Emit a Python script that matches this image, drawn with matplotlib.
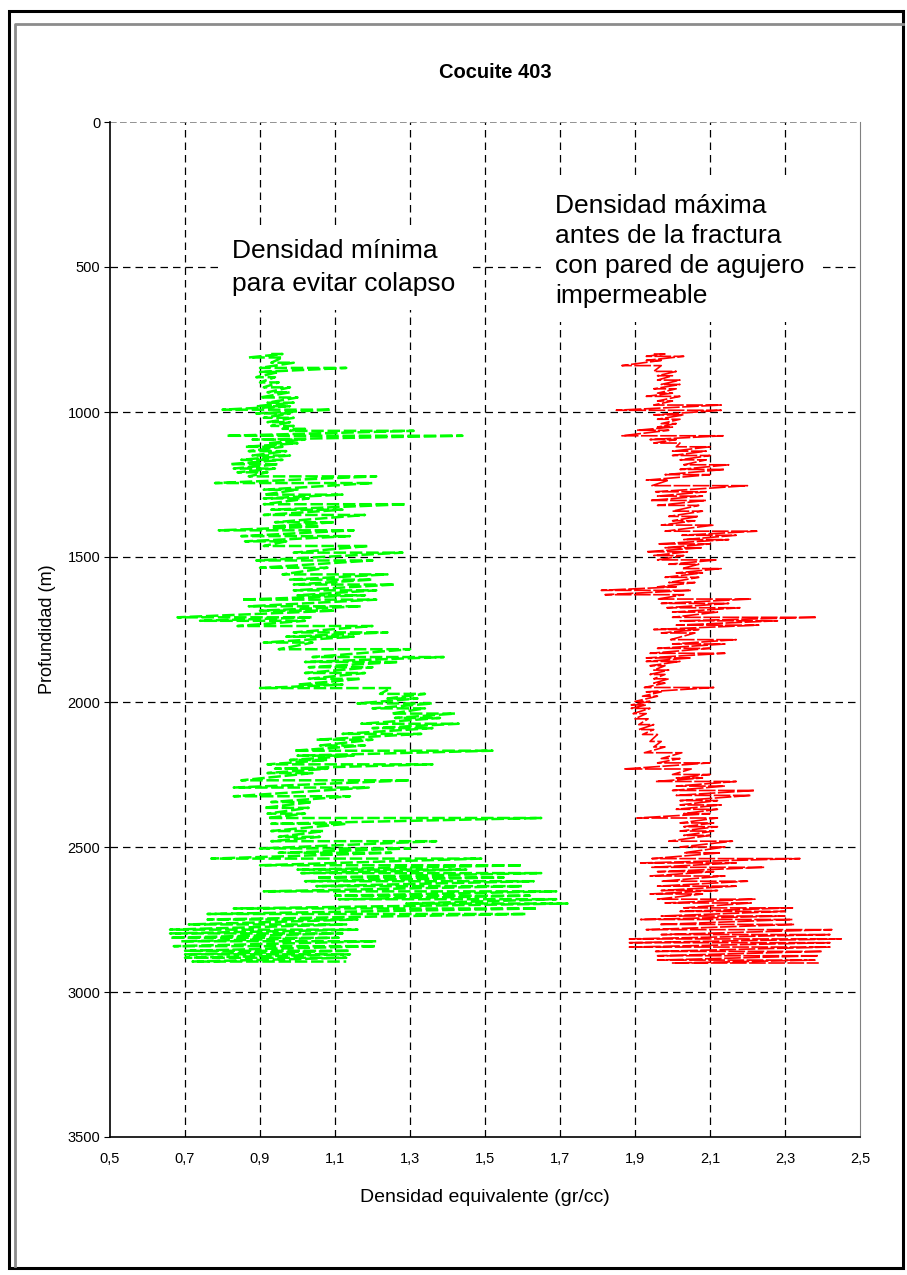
import numpy as np
import matplotlib
matplotlib.use('Agg')
import matplotlib.pyplot as plt
from matplotlib.lines import Line2D

plt.rcParams['font.family'] = ['Liberation Sans', 'DejaVu Sans']

# Minimum density to avoid collapse (green): depth (m), left / right extent of the trace
g_depth = [800, 812, 830, 848, 862, 880, 898, 915, 932, 950,
           968, 980, 992, 1005, 1020, 1035, 1048, 1058, 1065, 1082,
           1095, 1108, 1120, 1135, 1150, 1165, 1180, 1195, 1208, 1222,
           1245, 1268, 1285, 1298, 1318, 1337, 1355, 1380, 1395, 1408,
           1428, 1446, 1462, 1485, 1512, 1537, 1560, 1578, 1595, 1615,
           1632, 1647, 1670, 1685, 1708, 1720, 1738, 1760, 1775, 1795,
           1818, 1845, 1862, 1880, 1900, 1920, 1940, 1952, 1972, 1988,
           2005, 2022, 2040, 2055, 2075, 2090, 2110, 2130, 2150, 2168,
           2185, 2200, 2215, 2230, 2245, 2270, 2295, 2325, 2345, 2365,
           2385, 2400, 2420, 2445, 2465, 2480, 2505, 2520, 2540, 2563,
           2578, 2590, 2605, 2618, 2635, 2653, 2668, 2680, 2695, 2712,
           2731, 2750, 2767, 2785, 2798, 2813, 2825, 2842, 2858, 2870,
           2882, 2895]
g_lo = [0.93, 0.87, 0.93, 0.90, 0.90, 0.89, 0.90, 0.91, 0.92, 0.90,
        0.92, 0.89, 0.80, 0.89, 0.91, 0.92, 0.93, 0.96, 0.98, 0.81,
        0.88, 0.92, 0.86, 0.87, 0.88, 0.85, 0.82, 0.83, 0.84, 0.87,
        0.78, 0.91, 0.91, 0.91, 0.91, 0.93, 0.91, 0.94, 0.93, 0.79,
        0.85, 0.86, 0.91, 0.99, 0.89, 0.90, 0.96, 0.98, 0.99, 0.99,
        1.00, 0.85, 0.87, 0.90, 0.68, 0.74, 0.84, 0.99, 0.97, 0.91,
        0.95, 1.04, 1.02, 1.03, 1.02, 1.03, 1.00, 0.90, 1.22, 1.24,
        1.16, 1.20, 1.25, 1.26, 1.17, 1.20, 1.12, 1.05, 1.06, 0.99,
        1.00, 0.98, 0.92, 0.94, 0.92, 0.85, 0.83, 0.83, 0.93, 0.91,
        0.92, 0.92, 0.93, 0.93, 0.95, 0.93, 0.90, 0.95, 0.77, 0.90,
        1.00, 1.01, 1.05, 1.02, 1.05, 0.91, 1.10, 1.11, 1.29, 0.83,
        0.76, 0.76, 0.71, 0.66, 0.66, 0.66, 0.69, 0.67, 0.70, 0.70,
        0.70, 0.72]
g_hi = [0.96, 0.96, 0.99, 1.13, 0.95, 0.94, 0.95, 0.98, 0.98, 1.00,
        0.99, 0.98, 1.09, 0.98, 0.99, 0.98, 0.99, 1.02, 1.31, 1.44,
        1.02, 1.00, 0.96, 0.97, 0.98, 0.96, 0.95, 0.94, 0.92, 1.21,
        1.20, 1.00, 1.12, 1.03, 1.29, 1.12, 1.18, 1.10, 1.06, 1.15,
        1.14, 0.97, 1.19, 1.28, 1.20, 1.08, 1.24, 1.20, 1.26, 1.21,
        1.18, 1.21, 1.17, 1.10, 1.04, 1.02, 1.20, 1.24, 1.15, 1.04,
        1.30, 1.39, 1.27, 1.20, 1.18, 1.17, 1.12, 1.25, 1.34, 1.32,
        1.36, 1.34, 1.42, 1.38, 1.43, 1.36, 1.33, 1.20, 1.18, 1.52,
        1.15, 1.08, 1.36, 1.08, 1.04, 1.30, 1.19, 1.14, 1.04, 1.03,
        1.02, 1.65, 1.13, 1.07, 1.06, 1.37, 1.30, 1.25, 1.49, 1.60,
        1.45, 1.65, 1.55, 1.63, 1.60, 1.69, 1.62, 1.69, 1.72, 1.64,
        1.61, 1.16, 1.13, 1.16, 1.12, 1.11, 1.21, 1.21, 1.14, 1.14,
        1.13, 1.13]

# Maximum density before fracture (red)
r_depth = [800, 808, 822, 840, 860, 875, 890, 905, 920, 935,
           946, 962, 976, 994, 1010, 1025, 1040, 1052, 1063, 1082,
           1095, 1107, 1120, 1135, 1150, 1165, 1182, 1198, 1216, 1235,
           1254, 1275, 1290, 1305, 1322, 1342, 1360, 1375, 1390, 1411,
           1425, 1440, 1455, 1468, 1482, 1495, 1510, 1525, 1540, 1555,
           1570, 1588, 1603, 1615, 1630, 1645, 1660, 1675, 1690, 1708,
           1720, 1735, 1750, 1762, 1785, 1800, 1815, 1832, 1848, 1860,
           1875, 1890, 1905, 1920, 1935, 1950, 1965, 1980, 1998, 2010,
           2022, 2040, 2058, 2078, 2095, 2112, 2136, 2155, 2175, 2195,
           2210, 2231, 2250, 2262, 2274, 2290, 2305, 2322, 2340, 2355,
           2370, 2385, 2400, 2417, 2430, 2445, 2460, 2480, 2500, 2520,
           2540, 2555, 2570, 2585, 2600, 2618, 2635, 2650, 2662, 2680,
           2693, 2710, 2722, 2738, 2750, 2767, 2785, 2802, 2817, 2830,
           2845, 2860, 2875, 2890, 2900]
r_lo = [1.95, 1.93, 1.93, 1.865, 1.95, 1.96, 1.96, 1.97, 1.95, 1.96,
        1.93, 1.96, 1.95, 1.85, 1.95, 1.96, 1.97, 1.96, 1.905, 1.865,
        1.94, 1.95, 2.01, 2.00, 2.00, 2.02, 2.03, 2.02, 1.98, 1.93,
        1.945, 1.955, 1.96, 1.94, 1.96, 2.00, 1.99, 2.00, 1.97, 1.98,
        2.025, 2.03, 1.96, 1.98, 1.93, 1.95, 1.96, 1.99, 2.025, 2.01,
        1.98, 1.99, 1.96, 1.81, 1.82, 1.96, 1.97, 1.985, 2.00, 2.00,
        2.02, 2.01, 1.95, 1.97, 1.995, 2.00, 1.96, 1.94, 1.93, 1.93,
        1.94, 1.95, 1.94, 1.95, 1.95, 1.925, 1.93, 1.92, 1.90, 1.89,
        1.89, 1.895, 1.90, 1.91, 1.91, 1.92, 1.94, 1.95, 1.925, 1.97,
        1.96, 1.87, 2.00, 2.01, 1.955, 2.01, 2.00, 2.01, 2.02, 2.02,
        2.01, 2.03, 1.905, 2.02, 2.03, 2.02, 2.03, 1.99, 2.02, 2.03,
        1.945, 1.915, 1.945, 1.96, 1.94, 1.97, 1.96, 1.97, 1.94, 1.96,
        1.98, 2.03, 2.02, 1.97, 1.915, 1.965, 1.93, 1.97, 1.885, 1.885,
        1.885, 1.955, 1.96, 1.96, 2.00]
r_hi = [1.98, 2.03, 1.97, 1.97, 2.01, 2.00, 2.02, 2.02, 2.01, 2.00,
        2.02, 2.00, 2.13, 2.13, 2.03, 2.02, 2.01, 2.00, 1.99, 2.135,
        2.01, 2.02, 2.10, 2.09, 2.10, 2.09, 2.15, 2.14, 2.10, 1.99,
        2.20, 2.09, 2.08, 2.09, 2.07, 2.08, 2.07, 2.06, 2.11, 2.225,
        2.17, 2.15, 2.10, 2.08, 2.04, 2.03, 2.12, 2.07, 2.13, 2.08,
        2.07, 2.06, 2.01, 2.05, 2.03, 2.21, 2.15, 2.18, 2.12, 2.385,
        2.28, 2.23, 2.07, 2.06, 2.17, 2.14, 2.10, 2.14, 2.05, 2.02,
        1.98, 1.99, 1.98, 1.99, 1.98, 2.11, 1.97, 1.96, 1.94, 1.93,
        1.94, 1.93, 1.935, 1.95, 1.95, 1.96, 1.97, 1.98, 2.025, 2.02,
        2.10, 2.05, 2.10, 2.08, 2.17, 2.14, 2.22, 2.21, 2.12, 2.13,
        2.12, 2.10, 2.12, 2.11, 2.12, 2.11, 2.10, 2.16, 2.14, 2.13,
        2.34, 2.17, 2.245, 2.11, 2.14, 2.20, 2.17, 2.12, 2.08, 2.22,
        2.21, 2.32, 2.30, 2.30, 2.32, 2.325, 2.425, 2.42, 2.45, 2.42,
        2.42, 2.40, 2.39, 2.38, 2.39]

x_ticks = [0.5, 0.7, 0.9, 1.1, 1.3, 1.5, 1.7, 1.9, 2.1, 2.3, 2.5]
y_ticks = [0, 500, 1000, 1500, 2000, 2500, 3000, 3500]


def zigzag(depth, lo, hi):
    # the log swings left-right at each depth sample
    x = np.column_stack([lo, hi]).ravel()
    y = np.repeat(depth, 2)
    return x, y


fig = plt.figure(figsize=(9.07, 12.75), dpi=100)

# frame around the chart: black border, grey inner bevel on top and left
W, H = 907, 1275
fig.add_artist(plt.Rectangle((9/W, 1-1268/H), 894/W, 1257/H, transform=fig.transFigure,
                             fill=False, edgecolor='black', lw=2.2))
fig.add_artist(Line2D([15/W, 15/W, 903/W], [1-1266/H, 1-24/H, 1-24/H], transform=fig.transFigure,
                      color='#8c8c8c', lw=2))

ax = fig.add_axes([110/W, 1-1137/H, 750/W, 1015/H])

for x in x_ticks[1:-1]:
    ax.axvline(x, color='black', lw=0.9, ls=(0, (6, 4)), zorder=1)
for y in y_ticks[1:-1]:
    ax.axhline(y, color='black', lw=0.9, ls=(0, (6, 4)), zorder=1)
ax.axhline(0, color='#808080', lw=1.2, ls=(0, (4, 2)), zorder=1)

gx, gy = zigzag(g_depth, g_lo, g_hi)
ax.plot(gx, gy, color='#00FF00', lw=1.8, dashes=(5, 1.5), zorder=3)
rx, ry = zigzag(r_depth, r_lo, r_hi)
ax.plot(rx, ry, color='#FF0000', lw=1.2, dashes=(10, 1.5), zorder=3)

ax.set_xlim(0.5, 2.5)
ax.set_ylim(3500, 0)
ax.set_xticks(x_ticks)
ax.set_xticklabels([f'{v:.1f}'.replace('.', ',') for v in x_ticks], fontsize=10.5)
ax.set_yticks(y_ticks)
ax.set_yticklabels([str(v) for v in y_ticks], fontsize=10.5)
ax.tick_params(axis='x', direction='in', length=0, pad=11)
ax.tick_params(axis='y', direction='out', length=4, pad=3)

ax.spines['top'].set_visible(False)
ax.spines['right'].set_color('#808080')
ax.spines['left'].set_linewidth(1.2)
ax.spines['bottom'].set_linewidth(1.2)

ax.set_xlabel('Densidad equivalente (gr/cc)', fontsize=14, labelpad=16)
ax.set_ylabel('Profundidad (m)', fontsize=13, labelpad=8)

box = dict(facecolor='white', edgecolor='none', pad=10)
ax.text(0.825, 405, 'Densidad mínima\npara evitar colapso', fontsize=19, va='top', ha='left',
        linespacing=1.45, bbox=box, zorder=2)
ax.text(1.687, 248, 'Densidad máxima\nantes de la fractura\ncon pared de agujero\nimpermeable',
        fontsize=19, va='top', ha='left', linespacing=1.32, bbox=box, zorder=2)

fig.text(495/W, 1-72/H, 'Cocuite 403', fontsize=14.5, fontweight='bold', ha='center', va='center')

fig.savefig('out.png', dpi=100)
